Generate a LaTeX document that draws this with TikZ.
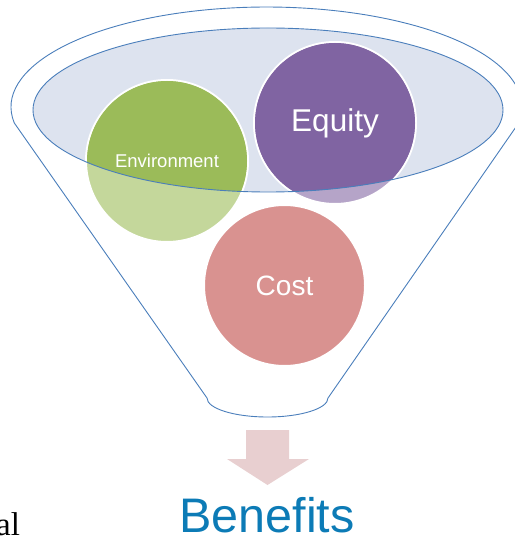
\documentclass[tikz,border=0pt]{standalone}
\usepackage{fontspec}
\setmainfont{Liberation Sans}
\newfontfamily\bodyserif{Liberation Serif}
\definecolor{funnelline}{HTML}{4A7EBB}
\definecolor{rimfill}{HTML}{DDE3EF}
\definecolor{envsolid}{HTML}{9BBB59}
\definecolor{envlight}{HTML}{C4D79B}
\definecolor{eqsolid}{HTML}{8064A2}
\definecolor{eqlight}{HTML}{B5A4C8}
\definecolor{costlight}{HTML}{D99290}
\definecolor{arrowfill}{HTML}{E8CFD0}
\definecolor{benefitblue}{HTML}{0C7BB6}
\tikzset{
  outline/.style={draw=funnelline, line width=0.9pt},
  ball/.style={circle, draw=white, line width=2pt, minimum size=162pt, inner sep=0pt, text=white},
  balllabel/.style={text=white, inner sep=0pt},
}
\begin{document}
\begin{tikzpicture}[x=1pt, y=-1pt]
\useasboundingbox (0,0) rectangle (514,537);

% funnel body: upper rim arc, tapering sides, rounded spout
\draw[outline, line join=round]
  (14.3,123) arc[start angle=189.2, end angle=-9.2, x radius=255.5pt, y radius=100pt]
  -- (328,398)
  arc[start angle=0, end angle=-180, x radius=60.5pt, y radius=19pt]
  -- cycle;

% opening of the funnel
\fill[rimfill] (268,110) ellipse[x radius=235pt, y radius=82pt];

% the three circles, pale where they hang below the opening
\node[ball, fill=envlight] (env) at (167,161) {};
\node[ball, fill=eqlight] (eq) at (335,123) {};
\node[ball, fill=costlight, minimum size=161pt] (cost) at (284.5,285.5) {};

% inside the opening the circles are solid
\begin{scope}
  \clip (268,110) ellipse[x radius=235pt, y radius=82pt];
  \fill[envsolid] (env.center) circle[radius=80pt];
  \fill[eqsolid] (eq.center) circle[radius=80pt];
\end{scope}

\draw[outline] (268,110) ellipse[x radius=235pt, y radius=82pt];

\node[balllabel, font=\fontsize{18.5}{20}\selectfont] (envtxt) at (env.center) {Environment};
\node[balllabel, font=\fontsize{31.5}{34}\selectfont] (eqtxt) at (eq.center) {Equity};
\node[balllabel, font=\fontsize{28}{30}\selectfont] (costtxt) at (cost.center) {Cost};

% block arrow under the spout
\fill[arrowfill] (246,430) -- (289,430) -- (289,459) -- (309,459) -- (267.5,485)
  -- (227,459) -- (246,459) -- cycle;

\node[anchor=base, inner sep=0pt, text=benefitblue, font=\fontsize{48.5}{50}\selectfont]
  (benefits) at (267,532) {Benefits};

\node[anchor=base west, inner sep=0pt, font=\bodyserif\fontsize{33}{35}\selectfont]
  (frag) at (-4,535) {al};
\end{tikzpicture}
\end{document}
